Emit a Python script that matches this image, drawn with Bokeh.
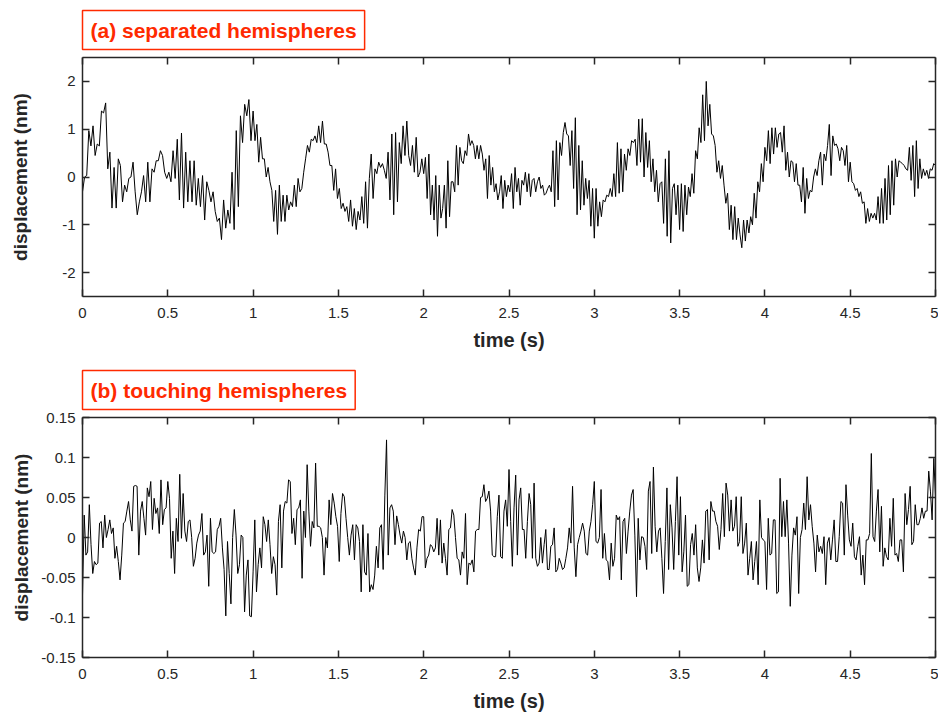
import numpy as np
from bokeh.plotting import figure
from bokeh.layouts import column
from bokeh.models import LinearAxis, FixedTicker, Range1d
from bokeh.embed import file_html
from bokeh.resources import INLINE

# ---------------- data ----------------
x_ticks = [0, 0.5, 1, 1.5, 2, 2.5, 3, 3.5, 4, 4.5, 5]
x_tick_labels = ["0", "0.5", "1", "1.5", "2", "2.5", "3", "3.5", "4", "4.5", "5"]

ya_ticks = [-2, -1, 0, 1, 2]
ya_tick_labels = ["-2", "-1", "0", "1", "2"]
yb_ticks = [-0.15, -0.1, -0.05, 0, 0.05, 0.1, 0.15]
yb_tick_labels = ["-0.15", "-0.1", "-0.05", "0", "0.05", "0.1", "0.15"]

title_a = "(a) separated hemispheres"
title_b = "(b) touching hemispheres"

# panel (a): displacement (nm), one list per second of time
disp_a_0_1 = [-0.31, 0, 0.03, 0.97, 0.65, 1.07, 0.45, 0.69, 0.65, 1.38, 1.34, 1.55, 0.17, 0.52, -0.65, 0.2,
              -0.65, 0.38, 0.24, -0.52, -0.17, -0.31, -0.03, 0, 0.31, -0.31, -0.79, -0.52, -0.31, 0.03, -0.52,
              0.31, -0.52, 0.17, 0.1, 0.34, 0.34, 0.55, 0.45, 0.1, -0.03, 0.1, -0.1, 0.55, -0.03, 0.79, -0.48,
              0.92, -0.65, 0.52, -0.52, 0.34, -0.52, 0.34, -0.59, -0.03, -0.62, 0.03, -0.9, -0.1, -0.28, -0.52,
              -0.31, -0.72, -0.93, -0.86, -1.31, -0.48, -1.07, -0.69, -0.97, 0.1, -1.1, 0.97, -0.62, 1.28, 0.72,
              1.52, 1.28, 1.62, 0.76]
disp_a_1_2 = [1.38, 0.76, 1.1, 0.31, 0.83, 0.38, 0.38, 0, 0.2, -0.1, -0.28, -0.93, -0.28, -1.2, -0.17, -0.93,
              -0.38, -0.93, -0.38, -0.69, -0.52, -0.62, -0.17, -0.62, -0.03, -0.31, -0.24, 0.1, 0.38, 0.66, 0.52,
              0.79, 0.76, 0.86, 0.72, 1.07, 0.72, 1.17, 0.69, 0.69, 0.52, 0.24, 0.24, -0.28, 0.17, -0.45, -0.24,
              -0.66, -0.55, -0.72, -0.62, -0.93, -0.48, -1.03, -0.66, -1.1, -0.72, -0.9, -0.41, -0.97, -0.1, -1.07,
              -0.03, 0.48, -0.45, 0.17, 0.07, 0.31, 0.2, 0.28, 0.14, -0.03, 0.52, -0.48, 0.9, -0.79, 0.93, -0.52,
              0.72, 0.28, 1.07, 0.45, 1.17, 0.45, 0.24, 0.66, 0.1, 0.83, 0, 0.1, 0.38]
disp_a_2_3 = [0.07, 0.41, -0.45, 0.48, -0.79, -0.17, -0.9, 0.03, -1.24, -0.17, -0.86, -0.66, -0.17, -1.07, 0.34,
              -0.83, -0.1, -0.1, -0.31, 0.66, -0.17, 0.62, 0.34, 0.28, 0.55, 0.45, 0.9, 0.66, 0.76, 0.66, 0.38,
              0.66, 0.38, 0.66, 0.48, 0.14, 0.38, -0.45, 0.45, -0.17, 0.2, -0.31, -0.14, -0.48, -0.31, 0.03, -0.66,
              -0.07, -0.41, -0.17, -0.31, 0.07, -0.66, 0.2, -0.31, -0.03, -0.59, -0.07, -0.17, 0.1, -0.31, 0.07,
              -0.41, -0.07, -0.03, -0.31, -0.1, 0, -0.24, -0.17, -0.38, -0.34, -0.24, -0.17, -0.31, 0.55, -0.62,
              0.76, -0.48, 0.72, 0.45, 0.93, 1.14, 0.9, 0.86, 0.24, 0.97, -0.24, 1.24, -0.79, 0.66, -0.69, 0.34,
              -0.59, -0.03, -0.45, -0.07, -1.03, -0.24]
disp_a_3_4 = [-1.28, -0.24, -1.03, -0.52, -0.83, -0.48, -0.52, -0.38, -0.41, -0.24, -0.41, 0.07, -0.41, 0.72,
              -0.34, 0.59, -0.31, 0.48, 0.14, 0.59, 0.45, 0.76, 0.72, 0.79, 0.24, 1.21, 0.31, 1.22, 0, 0.93, 0.2,
              0.76, -0.1, 0.38, -0.31, 0.14, -0.52, -0.14, -0.1, -0.97, 0.38, -1.24, 0.55, -1.38, -0.24, -0.14,
              -0.79, -0.17, -1.1, -0.14, -1.14, -0.17, -0.79, -0.21, -0.41, 0.07, -0.34, 0.55, 0.38, 1.03, 0.72,
              1.72, 0.76, 2.0, 1.07, 1.52, 0.9, 0.86, 0.66, 0.1, 0.34, -0.03, 0.24, -0.17, -0.55, -0.34, -1.1,
              -0.59, -1.31, -0.62, -1.31, -0.86, -1.21, -1.48, -0.9, -1.34, -0.9, -1.17, -0.83, -1.0, -0.34, -0.86,
              -0.1, -0.31, 0.28, -0.1]
disp_a_4_5 = [0.62, 0.34, 0.97, 0.28, 1.03, 0.48, 1.03, 0.62, 0.9, 0.93, 0.52, 1.07, 0.14, 0.52, 0, 0.34, 0.31,
              -0.1, 0.28, -0.17, -0.17, -0.52, 0.2, -0.76, -0.03, -0.45, -0.28, -0.31, 0, 0.17, 0.03, 0.34, 0.52,
              -0.17, 0.48, 0.34, 0.66, 1.1, 0.03, 0.86, 0.66, 0.69, 0.59, 0.34, 0.62, 0.55, 0.24, 0.66, -0.1, 0.31,
              -0.1, -0.14, -0.28, -0.24, -0.41, -0.31, -0.55, -0.52, -0.97, -0.66, -0.93, -0.76, -0.86, -0.76,
              -0.9, -0.41, -0.97, -0.24, -0.97, -0.03, -0.9, 0.24, -0.79, 0.34, -0.59, 0.38, 0, 0.34, 0.31, 0.28,
              0.24, 0.17, 0.14, 0.62, -0.07, 0.66, -0.41, 0.76, -0.24, 0.38, -0.03, 0.17, 0.03, 0.14, -0.03, 0.17,
              0.14, 0.28, 0.24]

# panel (b): displacement (nm), one list per second of time
disp_b_0_1 = [-0.072, 0.028, -0.022, -0.018, 0.041, -0.009, -0.045, -0.03, -0.034, -0.032, 0.018, 0.02, -0.013,
              0.028, 0, 0.01, 0.022, 0.005, 0.012, -0.026, -0.011, -0.03, -0.053, -0.022, 0.018, 0.02, 0.033,
              0.045, 0.022, 0.008, 0.064, 0.065, 0.064, -0.022, 0.033, 0.045, 0.024, 0.003, 0.062, 0.051, 0.07,
              0.01, 0.049, 0.03, 0.037, 0.005, 0.072, 0.016, 0.035, 0.037, 0.07, 0.049, -0.026, 0.008, -0.045,
              0.024, -0.005, 0.079, -0.001, 0.055, 0.008, -0.005, 0.02, 0.022, 0, -0.036, -0.026, -0.007, 0.003,
              0.008, 0.03, -0.022, -0.018, 0.003, -0.061, 0.024, -0.018, -0.02, -0.018, 0.01, 0.014, 0.024,
              -0.013, -0.04, -0.098, -0.005, -0.045, -0.083, 0, 0.035, 0.003, -0.045, -0.034, 0.003, 0, -0.093,
              -0.047, -0.028, -0.098, -0.099]
disp_b_1_2 = [-0.043, 0.022, -0.068, -0.034, -0.013, -0.038, 0.026, 0.016, -0.005, 0.022, -0.009, -0.045,
              -0.024, -0.034, -0.072, 0.02, 0.041, -0.038, 0.033, 0.045, 0.043, 0.072, 0.07, 0.005, 0.024, -0.009,
              0.035, 0.037, 0.047, -0.051, 0.033, 0, 0.091, 0.033, -0.011, 0.02, 0.012, 0.093, 0.014, 0.014,
              0.012, 0, -0.047, 0, -0.013, 0.047, 0.016, 0.055, 0.043, 0.026, 0.014, -0.03, 0.03, 0.055, 0.051,
              0.024, 0, -0.022, 0.003, 0.016, -0.028, 0.016, 0.012, -0.005, -0.068, 0.016, -0.043, -0.047, 0.005,
              -0.068, -0.059, -0.065, -0.047, -0.011, -0.038, 0.012, 0.016, -0.04, 0.053, 0.122, -0.022, 0.037,
              0.041, 0.033, -0.009, 0.027, 0.016, 0.003, -0.007, 0.008, 0, -0.028, -0.007, -0.005, -0.026, -0.038,
              -0.047, -0.013, 0.01, 0.008, 0.026]
disp_b_2_3 = [0.026, -0.038, -0.026, -0.022, -0.009, -0.011, -0.018, -0.013, 0.024, -0.022, 0.022, -0.032,
              -0.007, -0.026, -0.047, 0.01, 0.012, 0.035, 0.028, 0, -0.026, -0.028, -0.047, -0.018, -0.026, 0.03,
              -0.059, -0.032, -0.034, -0.028, -0.043, 0.008, 0.01, 0.01, 0.05, 0.051, 0.066, 0.045, 0.049, 0.058,
              0.033, -0.022, -0.024, -0.024, 0.026, 0.053, -0.024, -0.026, 0.033, 0.047, 0.014, 0.085, 0.02,
              -0.036, 0.037, 0.078, -0.022, 0.047, 0.062, 0.01, 0.01, -0.026, 0.02, 0.055, 0.041, -0.026, 0.068,
              -0.026, -0.036, -0.032, 0, -0.032, -0.009, 0.01, -0.04, -0.04, -0.011, -0.009, 0.012, -0.043, -0.04,
              -0.026, -0.032, -0.04, -0.038, -0.026, -0.013, 0.012, -0.007, 0.064, -0.013, -0.049, -0.009, 0,
              0.008, 0.018, 0.008, -0.02, -0.022, 0.008, 0.02, 0.041]
disp_b_3_4 = [0.07, -0.005, -0.007, 0, 0.06, -0.026, 0.005, -0.028, -0.03, -0.053, -0.007, -0.036, -0.026, 0.028,
              0.022, 0.026, -0.053, 0.02, 0.024, -0.02, 0.008, 0.033, 0.053, 0.06, 0.003, -0.074, 0.024, -0.028,
              0.001, 0, -0.011, -0.04, 0.058, 0.07, -0.02, 0.088, 0.014, -0.018, 0.008, 0.012, -0.026, -0.07,
              -0.005, 0.062, -0.04, 0.041, 0.012, -0.04, 0.02, 0.076, -0.022, 0.051, -0.043, -0.018, 0.028, -0.061,
              -0.059, -0.009, 0.005, -0.022, 0.016, -0.038, -0.055, -0.038, -0.003, -0.032, 0.033, 0.035, -0.028,
              0.045, 0.033, 0.033, 0.02, 0.014, -0.015, 0.01, 0.055, 0.001, 0.068, 0.053, 0.008, 0.047, 0.008,
              0.014, 0.051, -0.011, -0.005, 0.051, -0.02, -0.007, 0.018, -0.047, -0.026, -0.005, -0.053, -0.03,
              -0.005, -0.059, 0.047, 0, -0.003]
disp_b_4_5 = [-0.005, -0.065, 0.024, -0.022, -0.02, 0.022, 0.022, -0.07, -0.068, 0.074, 0.001, 0.045, 0.001,
              0.047, -0.007, -0.086, -0.022, 0.012, 0.003, 0.026, -0.07, 0, 0.01, 0.043, 0.01, 0.076, 0.022, 0.041,
              0.014, -0.007, -0.043, 0.003, -0.018, -0.011, -0.02, 0.001, -0.059, -0.007, 0, -0.028, -0.003, 0.022,
              -0.03, -0.03, 0.001, 0.045, 0.043, -0.022, 0.066, 0.028, -0.003, -0.011, 0.018, -0.024, -0.028,
              -0.011, 0.001, -0.047, -0.022, -0.059, -0.003, -0.003, 0.005, 0.105, 0.001, -0.005, 0.033, 0.06,
              -0.018, 0.039, -0.036, -0.013, -0.024, -0.028, 0.024, -0.011, 0.049, -0.022, -0.02, -0.03, -0.003,
              -0.003, -0.043, 0.055, 0.016, 0.035, 0.064, -0.009, -0.005, 0.041, 0.016, 0.016, 0.024, 0.037, 0.024,
              0.033, 0.033, 0.083, 0.058, 0.022, 0.099, 0.05]


def series(segments):
    ts, vs = [], []
    last = len(segments) - 1
    for k, seg in enumerate(segments):
        n = len(seg)
        if k == last:
            t = k + np.arange(n) / (n - 1)
        else:
            t = k + np.arange(n) / n
        ts.append(t)
        vs.append(np.asarray(seg, dtype=float))
    return np.concatenate(ts), np.concatenate(vs)


t_a, v_a = series([disp_a_0_1, disp_a_1_2, disp_a_2_3, disp_a_3_4, disp_a_4_5])
t_b, v_b = series([disp_b_0_1, disp_b_1_2, disp_b_2_3, disp_b_3_4, disp_b_4_5])

FONT = "Liberation Sans"
AX = "#262626"
RED = "#ff2a00"


def style_axis(ax, ticks, labels, show_labels=True):
    ax.ticker = FixedTicker(ticks=ticks)
    if show_labels:
        ax.major_label_overrides = {tk: lb for tk, lb in zip(ticks, labels)}
    else:
        ax.major_label_overrides = {tk: "" for tk in ticks}
        ax.major_label_standoff = 0
        ax.major_label_text_color = None
    ax.major_tick_in = 7
    ax.major_tick_out = 0
    ax.minor_tick_line_color = None
    ax.axis_line_color = AX
    ax.axis_line_width = 1.5
    ax.major_tick_line_color = AX
    ax.major_tick_line_width = 1.5
    ax.major_label_text_font = FONT
    ax.major_label_text_font_size = "15px"
    if show_labels:
        ax.major_label_text_color = AX
    ax.axis_label_text_font = FONT
    ax.axis_label_text_font_style = "bold"
    ax.axis_label_text_font_size = "19px"
    ax.axis_label_text_color = AX


def make_panel(t, v, yr, yticks, ylabels, title, height, top, bottom, ylab_standoff):
    p = figure(width=938, height=height, x_range=Range1d(0, 5), y_range=Range1d(*yr),
               output_backend="svg", toolbar_location=None,
               min_border_left=82, min_border_right=3, min_border_top=top, min_border_bottom=bottom)
    p.outline_line_color = None
    p.xgrid.grid_line_color = None
    p.ygrid.grid_line_color = None
    p.background_fill_color = "white"
    p.border_fill_color = "white"

    style_axis(p.xaxis[0], x_ticks, x_tick_labels)
    p.xaxis[0].axis_label = "time (s)"
    p.xaxis[0].axis_label_text_font_size = "20px"
    p.xaxis[0].major_label_standoff = 11
    p.xaxis[0].axis_label_standoff = 8
    style_axis(p.yaxis[0], yticks, ylabels)
    p.yaxis[0].axis_label = "displacement (nm)"
    p.yaxis[0].major_label_standoff = 7
    p.yaxis[0].axis_label_standoff = ylab_standoff

    top_ax = LinearAxis()
    style_axis(top_ax, x_ticks, x_tick_labels, show_labels=False)
    p.add_layout(top_ax, "above")
    right_ax = LinearAxis()
    style_axis(right_ax, yticks, ylabels, show_labels=False)
    p.add_layout(right_ax, "right")

    p.line(t, v, line_color="black", line_width=1)

    p.title.text = title
    p.title.align = "left"
    p.title.text_font = FONT
    p.title.text_font_style = "bold"
    p.title.text_font_size = "21px"
    p.title.text_color = RED
    p.title.border_line_color = RED
    p.title.border_line_width = 1.5
    p.title.background_fill_color = "white"
    p.title.padding = 8
    p.title.standoff = 16
    return p


p1 = make_panel(t_a, v_a, (-2.5, 2.5), ya_ticks, ya_tick_labels, title_a, 357, 56, 61, 28)
p2 = make_panel(t_b, v_b, (-0.15, 0.15), yb_ticks, yb_tick_labels, title_b, 358, 60, 58, 6)

layout = column(p1, p2, spacing=0)
open("out.html", "w").write(file_html(layout, INLINE))
